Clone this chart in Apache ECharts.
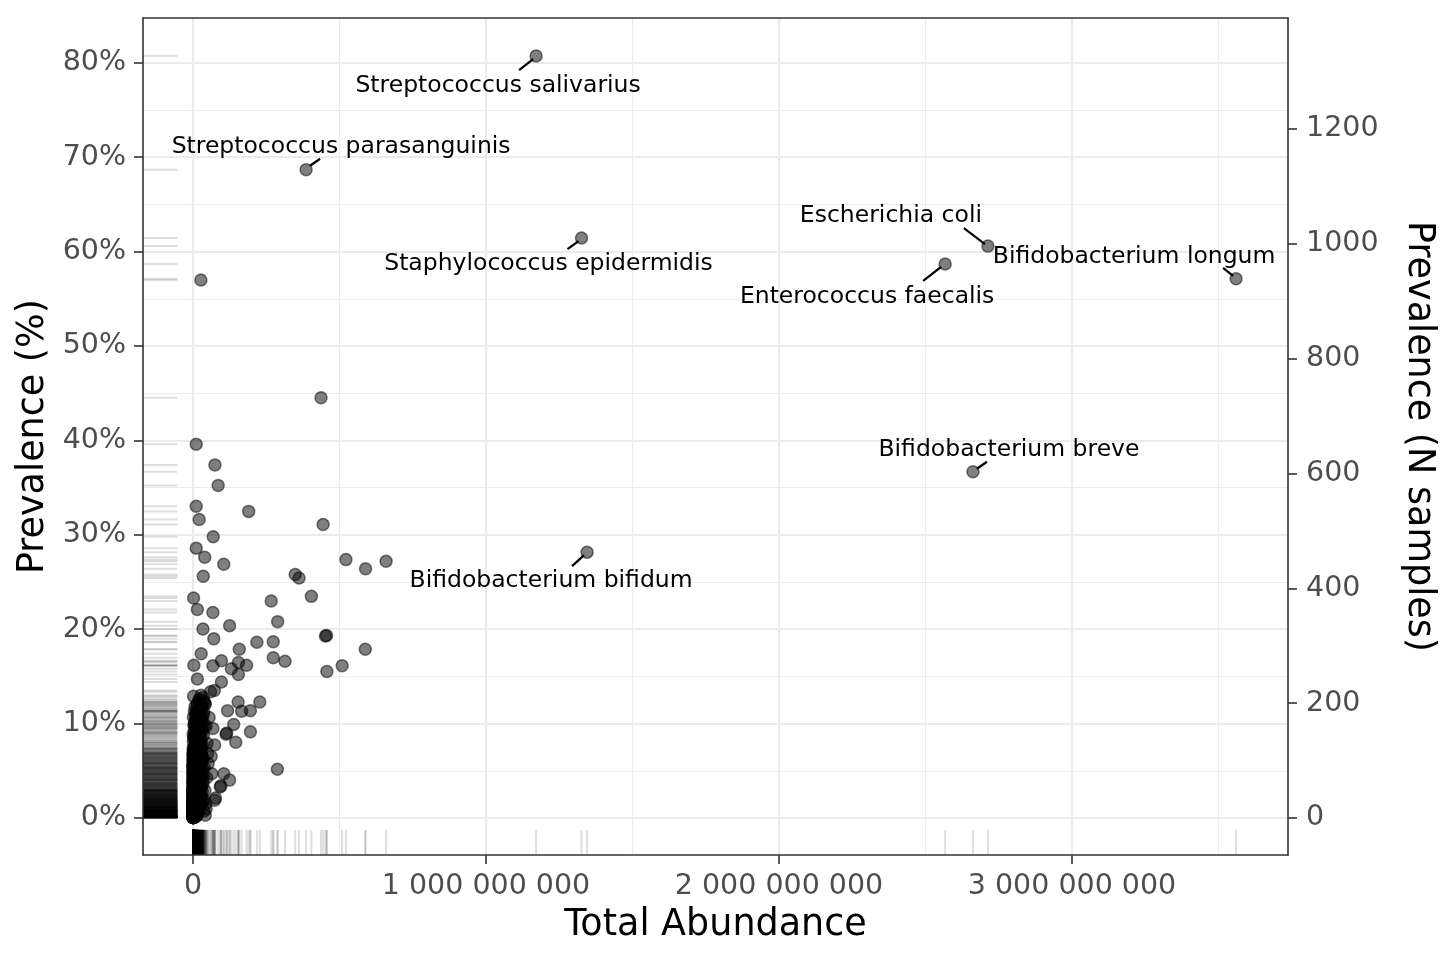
<!DOCTYPE html>
<html>
<head>
<meta charset="utf-8">
<script src="https://cdn.jsdelivr.net/npm/echarts@6/dist/echarts.min.js"></script>
<style>html,body{margin:0;padding:0;background:#fff}#c{width:1440px;height:960px}</style>
</head>
<body>
<div id="c"></div>
<script>
// ---------------- DATA ----------------
// Total abundance in millions, prevalence as number of samples (N = 1644)
const TOTAL_SAMPLES = 1644;

const labelledNames = ['Streptococcus salivarius', 'Streptococcus parasanguinis', 'Staphylococcus epidermidis',
  'Escherichia coli', 'Bifidobacterium longum', 'Enterococcus faecalis', 'Bifidobacterium breve', 'Bifidobacterium bifidum'];
const labelledAbundanceM = [1171, 386, 1326, 2713, 3560, 2567, 2662, 1345];
const labelledPrevalenceN = [1327, 1129, 1010, 996, 939, 965, 603, 463];

const spreadPoints = [
  [27,937],[437,732],[11,651],[75,615],[86,579],[11,543],[190,534],[21,520],[444,511],[69,490],
  [11,470],[40,454],[105,442],[522,450],[589,434],[659,447],[35,421],[349,424],[362,418],[404,386],
  [2,383],[15,363],[68,358],[267,378],[289,342],[34,329],[125,335],[452,317],[456,318],[71,312],
  [218,306],[274,307],[588,294],[28,286],[97,274],[158,294],[274,279],[314,273],[509,265],[457,255],
  [3,266],[68,265],[131,260],[155,271],[183,266],[155,250],[15,242],[97,237],[2,212],[60,220],
  [73,222],[154,202],[228,202],[118,187],[166,186],[196,187],[139,163],[196,150],[113,146],[115,148],
  [146,132],[288,85],[64,77],[105,77],[125,66],[93,54],[95,56],[77,35],[68,156],[74,127],
  [62,107],[74,31],[45,16]
];

const clusterLow = [
  [0.2,1],[0.5,1],[1.1,1],[0.1,1],[2.3,1],[0.8,1],[0.3,2],[1.6,2],[0.05,2],[3.2,2],
  [0.9,2],[0.4,3],[2.1,3],[0.7,3],[5.4,3],[1.3,3],[0.2,4],[3.8,4],[1.0,4],[0.6,4],
  [2.7,5],[0.3,5],[1.8,5],[6.1,5],[0.9,6],[4.2,6],[0.1,6],[2.4,7],[1.2,7],[7.5,7],
  [0.5,8],[3.1,8],[1.7,8],[0.8,9],[4.9,9],[2.2,9],[9.3,10],[0.4,10],[1.5,10],[3.6,11],
  [0.7,11],[6.8,11],[2.0,12],[1.1,12],[4.4,12],[0.3,13],[8.2,13],[2.9,13],[1.4,14],[5.7,14],
  [0.6,14],[3.3,15],[11.5,15],[1.9,15],[0.2,16],[7.1,16],[2.6,16],[4.0,17],[0.9,17],[13.2,17],
  [1.3,18],[5.1,18],[2.5,18],[0.4,19],[9.8,19],[3.5,19],[1.6,20],[6.4,20],[0.8,20],[2.8,20],
  [0.15,1],[0.6,1],[1.4,1],[0.35,2],[0.9,3],[1.9,4],[0.25,5],[3.4,6],[0.45,7],[2.0,8],
  [0.65,9],[1.25,10],[0.55,11],[3.9,12],[0.95,13],[1.75,14],[0.35,15],[2.45,16],[0.75,17],[4.6,18],
  [1.05,19],[0.5,20],[12.4,3],[15.7,8],[10.6,12],[18.3,16],[14.1,6],[8.9,4],[21.6,11],[16.5,19],
  [0.12,1],[0.3,1],[0.7,2],[1.2,2],[0.5,3],[0.2,3],[1.6,4],[0.4,6],[0.85,5],[2.1,7]
];

const clusterLow2 = [
  [0.3,1],[0.9,1],[1.7,1],[0.05,1],[4.1,1],[0.6,2],[2.2,2],[0.15,2],[1.4,3],[3.5,3],
  [0.25,3],[0.8,4],[2.6,4],[0.45,4],[5.9,5],[1.1,5],[0.2,6],[2.9,6],[1.5,7],[0.6,7],
  [3.7,8],[0.9,8],[0.3,9],[6.3,9],[1.8,10],[0.7,10],[4.7,11],[1.2,11],[0.4,12],[2.4,13],
  [7.8,13],[0.8,14],[3.0,15],[1.5,15],[0.25,16],[5.2,17],[1.9,17],[0.6,18],[10.1,18],[2.7,19],
  [0.9,20],[4.3,21],[1.4,21],[0.35,22],[8.6,23],[2.1,23],[0.7,24],[3.9,25],[1.3,26],[0.2,26],
  [6.5,27],[2.8,27],[0.55,28],[11.8,29],[1.7,29],[0.3,30],[4.0,30],[1.0,1],[0.4,2],[1.9,3],
  [0.7,5],[2.3,6],[0.15,8],[1.2,9],[0.5,12],[3.1,14],[0.8,16],[1.6,18],[0.35,20],[2.6,22],
  [0.65,25],[1.85,28],[0.1,4],[0.95,7],[2.05,11],[0.45,15],[1.35,19],[0.55,24],[3.3,10],[14.9,14],
  [5.5,2],[9.1,3],[7.2,5],[13.6,7],[4.8,9],[11.0,10],[6.9,13],[17.2,15],[8.3,18],[23.9,21],
  [3.6,24],[15.9,26],[5.4,29],[12.1,31],[7.7,33],[42.0,5],[38.0,12]
];

const clusterMid = [
  [0.3,21],[2.4,21],[7.6,22],[1.2,22],[0.6,23],[4.5,23],[12.8,24],[1.8,24],[0.2,25],[3.7,25],
  [9.1,26],[1.0,26],[5.9,27],[0.5,27],[2.3,28],[16.2,28],[0.9,29],[6.7,29],[3.1,30],[1.4,30],
  [10.4,31],[0.4,31],[4.8,32],[2.0,32],[0.7,33],[8.3,33],[1.6,34],[14.5,34],[3.4,35],[0.3,35],
  [6.0,36],[1.1,36],[19.7,37],[2.6,37],[0.8,38],[5.3,38],[11.9,39],[1.5,39],[4.1,40],[0.2,40],
  [7.9,41],[2.2,41],[0.6,42],[13.6,42],[3.0,43],[1.3,43],[9.6,44],[0.5,44],[5.5,45],[2.7,45],
  [17.4,46],[1.0,46],[3.9,47],[0.4,47],[8.7,48],[1.9,48],[22.3,49],[0.7,49],[6.2,50],[2.9,50],
  [0.15,22],[1.7,25],[0.45,28],[3.3,31],[0.95,33],[2.1,36],[0.25,38],[4.4,40],[1.15,43],[0.65,46],
  [2.5,48],[0.35,50],[25.1,27],[20.6,35],[24.3,44],[15.3,23],[18.8,31],[27.5,38],[11.2,47],[7.2,26],
  [9.9,37],[13.1,49],[5.0,42],[0.8,24],[1.3,29],[0.5,34],[2.8,39],[1.6,45],[0.1,30],[3.6,49],
  [36.0,33],[44.0,25],[41.0,48]
];

const clusterMid2 = [
  [0.6,31],[3.4,32],[1.2,33],[7.3,34],[0.3,35],[2.5,36],[12.2,37],[0.9,38],[4.6,39],[1.6,40],
  [0.4,41],[9.0,42],[2.2,43],[0.7,44],[5.8,45],[1.4,46],[15.1,47],[0.2,48],[3.6,49],[1.0,50],
  [6.8,51],[2.0,53],[0.5,54],[10.9,56],[3.1,57],[1.3,59],[17.9,60],[0.8,62],[4.3,63],[2.6,65],
  [0.4,67],[8.0,68],[1.7,70],[13.0,71],[3.9,73],[0.6,75],[5.4,77],[20.8,78],[1.5,80],[2.9,82],
  [0.3,84],[9.8,85],[4.5,87],[1.1,89],[15.4,91],[2.4,92],[0.7,94],[6.2,96],[25.9,98],[3.2,100],
  [1.2,103],[11.0,105],[4.0,107],[0.5,110],[19.0,111],[2.7,113],[7.6,116],[1.0,118],[13.3,119],[27.0,120],
  [0.9,57],[1.8,64],[0.35,71],[2.1,86],[0.65,99],[3.8,59],[5.1,74],[0.15,81],[1.4,93],[4.8,102]
];

const clusterMid3 = [
  [8.4,20],[19.5,22],[27.3,24],[11.7,26],[33.1,28],[6.6,30],[22.9,32],[14.3,34],[29.8,36],[9.2,38],
  [18.1,40],[25.6,42],[12.5,44],[31.4,46],[7.9,48],[20.2,50],[16.8,52],[28.7,54],[10.3,56],[23.8,58],
  [5.7,60],[34.6,62],[13.4,64],[21.5,66],[8.6,68],[26.9,70],[15.0,72],[30.2,74],[11.4,76],[19.9,78],
  [6.3,80],[24.5,82],[17.2,84],[32.8,86],[9.7,88],[22.0,90],[14.6,92],[28.0,94],[7.4,96],[20.7,98],
  [12.9,100],[33.9,102],[16.1,104],[25.0,106],[10.0,108],[29.3,110],[18.6,112],[5.2,114],[23.1,116],[13.7,118],
  [31.0,120],[8.1,122],[21.8,124],[1.1,35],[0.4,39],[2.3,44],[0.8,52],[1.6,58],[0.3,63],[2.9,69],
  [0.6,75],[1.9,83],[0.5,90],[3.4,97],[1.3,106],[0.2,47],[2.7,53],[0.9,61],[1.5,68],[0.35,78],
  [2.2,87],[0.7,101],[4.1,114],[47.0,70],[52.0,95],[39.0,88],[50.0,112]
];

const clusterHigh = [
  [0.4,51],[3.2,52],[8.8,53],[1.5,54],[14.7,55],[0.7,56],[5.6,57],[2.3,58],[20.4,59],[1.1,60],
  [6.9,61],[0.3,62],[11.3,63],[3.8,64],[0.9,65],[17.6,66],[2.5,67],[7.4,68],[0.5,69],[4.6,70],
  [24.8,71],[1.7,72],[9.5,73],[0.2,74],[13.9,75],[3.0,76],[1.2,77],[6.1,78],[19.2,79],[0.6,80],
  [8.1,81],[2.8,82],[28.3,83],[1.4,84],[4.9,85],[0.8,86],[12.6,87],[3.5,88],[22.7,89],[1.0,90],
  [7.0,91],[0.4,92],[15.8,93],[2.1,94],[5.3,95],[0.7,96],[10.2,97],[3.3,98],[26.4,99],[1.6,100],
  [8.5,101],[0.3,102],[18.1,103],[4.2,104],[1.9,105],[11.7,106],[0.9,107],[30.5,108],[2.6,109],[6.6,110],
  [0.5,111],[14.2,112],[3.7,113],[21.3,114],[1.3,115],[32.1,58],[35.4,72],[29.0,95],[33.7,104],[0.1,55],
  [0.6,66],[1.8,79],[0.2,88],[2.4,97],[0.8,112],[16.9,61],[23.5,76],[12.0,84],[9.0,109],[5.8,66]
];

const clusterTop = [
  [2.2,116],[9.7,118],[16.4,120],[0.8,122],[24.6,124],[5.1,126],[31.2,128],[12.3,130],[1.5,132],[19.8,134],
  [7.7,136],[27.9,138],[3.6,140],[14.9,142],[35.8,144],[0.6,146],[10.8,148],[22.1,150],[4.3,152],[29.6,154],
  [17.0,156],[8.2,158],[38.4,160],[2.9,162],[13.5,164],[25.7,166],[6.4,168],[33.0,170],[11.1,172],[20.9,174],
  [1.2,176],[28.8,178],[15.6,180],[9.3,182],[36.7,184],[4.8,186],[23.4,188],[18.5,190],[31.9,192],[7.1,194],
  [26.2,196],[13.8,198],[40.3,200],[21.7,185],[30.1,165],[20.5,205],[35.0,210],[27.2,214],[42.0,198],
  [3.1,121],[18.8,123],[8.9,127],[26.7,131],[14.0,135],[2.0,139],[21.2,143],[6.7,147],[32.4,151],[12.8,155],
  [24.0,159],[4.9,163],[17.3,167],[28.1,171],[9.6,175],[34.3,179],[19.6,183],[13.1,187],[25.3,191],[30.7,195],
  [16.2,199],[37.5,203],[22.6,207],[10.4,169],[27.8,157],[48.0,130],[55.0,175],[45.0,160]
];

// tick values
const xTicks = [0, 1000, 2000, 3000];          // millions
const yPctTicks = [0, 10, 20, 30, 40, 50, 60, 70, 80];
const yNTicks = [0, 200, 400, 600, 800, 1000, 1200];
const xMinorGrid = [500, 1500, 2500, 3500];
const yMinorGrid = [5, 15, 25, 35, 45, 55, 65, 75];

// ---------------- LAYOUT (pixel offsets for the labels) ----------------
// [textDx, textDy, lineStartDx, lineStartDy, lineEndDx, lineEndDy]
const labelLayout = [
  [-38, 30, -3, 3, -17, 14],
  [35, -23, 4, -4, 14, -11],
  [-33, 26, -3, 3, -14, 11],
  [-97, -30, -3, -2, -24, -18],
  [-102, -22, -3, -3, -13, -11],
  [-78, 33, -4, 3, -22, 17],
  [36, -22, 4, -3, 14, -10],
  [-36, 29, -3, 3, -15, 14]
];

const labelledPoints = labelledAbundanceM.map((x, i) => [x, labelledPrevalenceN[i]]);
const allPoints = clusterLow.concat(clusterLow2, clusterMid, clusterMid2, clusterMid3, clusterHigh, clusterTop, spreadPoints, labelledPoints);

const FONT = '"DejaVu Sans", sans-serif';
const X_MIN = -170.6, X_MAX = 3737.2;
const N_MIN = -64.44, N_MAX = 1393.3;
const P_MIN = N_MIN / TOTAL_SAMPLES * 100, P_MAX = N_MAX / TOTAL_SAMPLES * 100;

function fmtBig(v) {
  const s = String(Math.round(v * 1e6));
  return s.replace(/\B(?=(\d{3})+(?!\d))/g, ' ');
}

const axisLineStyle = { color: '#333333', width: 1.6 };
const tickLabelStyle = { fontSize: 28.5, color: '#4d4d4d', fontFamily: FONT };
const titleStyle = { fontSize: 36.5, color: '#000000', fontFamily: FONT };

const gridLines = [];
xTicks.forEach(v => gridLines.push({ xAxis: v, lineStyle: { color: '#ebebeb', width: 2.2, type: 'solid' } }));
xMinorGrid.forEach(v => gridLines.push({ xAxis: v, lineStyle: { color: '#ebebeb', width: 1.1, type: 'solid' } }));
yPctTicks.forEach(v => gridLines.push({ yAxis: v, lineStyle: { color: '#ebebeb', width: 2.2, type: 'solid' } }));
yMinorGrid.forEach(v => gridLines.push({ yAxis: v, lineStyle: { color: '#ebebeb', width: 1.1, type: 'solid' } }));

const chart = echarts.init(document.getElementById('c'), null, { renderer: 'canvas' });
chart.setOption({
  animation: false,
  backgroundColor: '#ffffff',
  textStyle: { fontFamily: FONT },
  grid: { left: 143, right: 152, top: 18, bottom: 105, outerBoundsMode: 'none', containLabel: false },
  xAxis: [{
    type: 'value', min: X_MIN, max: X_MAX, position: 'bottom',
    name: 'Total Abundance', nameLocation: 'middle', nameGap: 52, nameTextStyle: titleStyle,
    axisLine: { show: true, onZero: false, lineStyle: axisLineStyle },
    axisTick: { show: true, customValues: xTicks, length: 9, lineStyle: axisLineStyle },
    axisLabel: Object.assign({ customValues: xTicks, margin: 17, formatter: fmtBig }, tickLabelStyle),
    splitLine: { show: false }, z: 10
  }, {
    type: 'value', min: X_MIN, max: X_MAX, position: 'top',
    axisLine: { show: true, onZero: false, lineStyle: axisLineStyle },
    axisTick: { show: false }, axisLabel: { show: false }, splitLine: { show: false }, z: 10
  }],
  yAxis: [{
    type: 'value', min: P_MIN, max: P_MAX, position: 'left',
    name: 'Prevalence (%)', nameLocation: 'middle', nameGap: 88, nameRotate: 90, nameTextStyle: titleStyle,
    axisLine: { show: true, onZero: false, lineStyle: axisLineStyle },
    axisTick: { show: true, customValues: yPctTicks, length: 9, lineStyle: axisLineStyle },
    axisLabel: Object.assign({ customValues: yPctTicks, margin: 17, padding: [5, 0, 0, 0], formatter: v => v + '%' }, tickLabelStyle),
    splitLine: { show: false }, z: 10
  }, {
    type: 'value', min: N_MIN, max: N_MAX, position: 'right',
    name: 'Prevalence (N samples)', nameLocation: 'middle', nameGap: 112, nameRotate: -90, nameTextStyle: titleStyle,
    axisLine: { show: true, onZero: false, lineStyle: axisLineStyle },
    axisTick: { show: true, customValues: yNTicks, length: 9, lineStyle: axisLineStyle },
    axisLabel: Object.assign({ customValues: yNTicks, margin: 18, padding: [5, 0, 0, 0], formatter: v => String(v) }, tickLabelStyle),
    splitLine: { show: false }, z: 10
  }],
  series: [{
    type: 'scatter', xAxisIndex: 0, yAxisIndex: 0, data: [], silent: true, z: 1,
    markLine: { silent: true, z: 1, symbol: ['none', 'none'], label: { show: false },
      emphasis: { disabled: true }, animation: false, data: gridLines }
  }, {
    type: 'custom', xAxisIndex: 0, yAxisIndex: 1, data: allPoints, silent: true, z: 3, clip: false,
    encode: { x: 0, y: 1 },
    renderItem: function (params, api) {
      const p = api.coord([api.value(0), api.value(1)]);
      const cs = params.coordSys;
      const st = { stroke: 'rgba(0,0,0,0.13)', lineWidth: 2 };
      return { type: 'group', children: [
        { type: 'line', shape: { x1: cs.x, y1: p[1], x2: cs.x + cs.width * 0.03, y2: p[1] }, style: st },
        { type: 'line', shape: { x1: p[0], y1: cs.y + cs.height, x2: p[0], y2: cs.y + cs.height * 0.97 }, style: st }
      ] };
    }
  }, {
    type: 'scatter', xAxisIndex: 0, yAxisIndex: 1, data: allPoints, silent: true, z: 4,
    symbol: 'circle', symbolSize: 12, progressive: 0,
    itemStyle: { color: 'rgba(0,0,0,0.5)', borderColor: 'rgba(0,0,0,0.5)', borderWidth: 1.5, opacity: 1 },
    emphasis: { disabled: true }
  }, {
    type: 'custom', xAxisIndex: 0, yAxisIndex: 1, silent: true, z: 5, clip: false,
    data: labelledPoints.map((p, i) => [p[0], p[1], i]),
    encode: { x: 0, y: 1 },
    renderItem: function (params, api) {
      const i = api.value(2);
      const p = api.coord([api.value(0), api.value(1)]);
      const L = labelLayout[i];
      return { type: 'group', children: [
        { type: 'line', shape: { x1: p[0] + L[2], y1: p[1] + L[3], x2: p[0] + L[4], y2: p[1] + L[5] },
          style: { stroke: '#000', lineWidth: 2.2 } },
        { type: 'text', x: p[0] + L[0], y: p[1] + L[1],
          style: { text: labelledNames[i], fill: '#000', fontSize: 23.5, fontFamily: FONT, align: 'center', verticalAlign: 'middle' } }
      ] };
    }
  }]
});
</script>
</body>
</html>
